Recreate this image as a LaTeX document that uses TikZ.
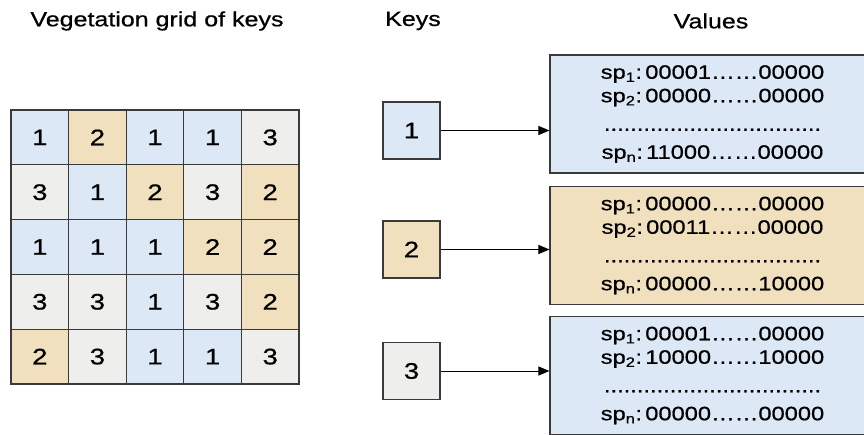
\documentclass[tikz,border=0pt]{standalone}
\usepackage{fontspec}
\setmainfont[FakeStretch=1.22,FakeBold=0.7]{Liberation Sans}
\usetikzlibrary{arrows.meta}

\definecolor{cellblue}{HTML}{DCE8F6}
\definecolor{celltan}{HTML}{F1E0BE}
\definecolor{cellgrey}{HTML}{EEEEEC}
\definecolor{edge}{HTML}{3A3A3A}

\tikzset{
  title/.style={font=\fontsize{20.5}{23}\selectfont},
  cell/.style={draw=edge, line width=1.1pt, inner sep=0pt,
    minimum width=57.6pt, minimum height=54.8pt,
    font=\fontsize{22.5}{25}\selectfont},
  cell1/.style={cell, fill=cellblue},
  cell2/.style={cell, fill=celltan},
  cell3/.style={cell, fill=cellgrey},
  keybox/.style={draw=edge, line width=1.1pt, inner sep=0pt,
    minimum size=57pt, font=\fontsize{22.5}{25}\selectfont},
  valbox/.style={draw=edge, line width=1.1pt, inner sep=0pt,
    minimum width=325pt, minimum height=118pt, align=center,
    font=\fontsize{19.4}{23.5}\selectfont},
  link/.style={-{Triangle[length=11pt,width=9pt]}, line width=1pt, draw=black}
}

\newcommand{\spline}[3]{sp\textsubscript{#1}:\,#2……#3}
\newcommand{\dotrow}{.................................}

\begin{document}
\begin{tikzpicture}[x=1pt, y=-1pt]
\useasboundingbox (0,0) rectangle (864,435);
\clip (0,0) rectangle (864,435);

\node[title] (tgrid) at (157,21) {Vegetation grid of keys};
\node[title] (tkeys) at (413,21) {Keys};
\node[title] (tvals) at (711,21) {Values};

% grid of keys
\foreach \row [count=\r] in {{1,2,1,1,3},{3,1,2,3,2},{1,1,1,2,2},{3,3,1,3,2},{2,3,1,1,3}}
  \foreach \v [count=\c] in \row
    \node[cell\v] (c\r\c) at ({11+57.6*(\c-0.5)},{110+54.8*(\r-0.5)}) {\v};

% keys and values
\node[keybox, fill=cellblue] (k1) at (411.5,130.5) {1};
\node[keybox, fill=celltan] (k2) at (411.5,249.5) {2};
\node[keybox, fill=cellgrey] (k3) at (411.5,371) {3};

\node[valbox, fill=cellblue] (v1) at (712.5,114)
  {\spline{1}{00001}{00000}\\ \spline{2}{00000}{00000}\\[5pt] \dotrow\\[4.5pt] \spline{n}{11000}{00000}};
\node[valbox, fill=celltan] (v2) at (712.5,245.5)
  {\spline{1}{00000}{00000}\\ \spline{2}{00011}{00000}\\[5pt] \dotrow\\[4.5pt] \spline{n}{00000}{10000}};
\node[valbox, fill=cellblue] (v3) at (712.5,375.5)
  {\spline{1}{00001}{00000}\\ \spline{2}{10000}{10000}\\[5pt] \dotrow\\[4.5pt] \spline{n}{00000}{00000}};

\draw[link] (k1.east) -- (k1.east -| v1.west);
\draw[link] (k2.east) -- (k2.east -| v2.west);
\draw[link] (k3.east) -- (k3.east -| v3.west);
\end{tikzpicture}
\end{document}
